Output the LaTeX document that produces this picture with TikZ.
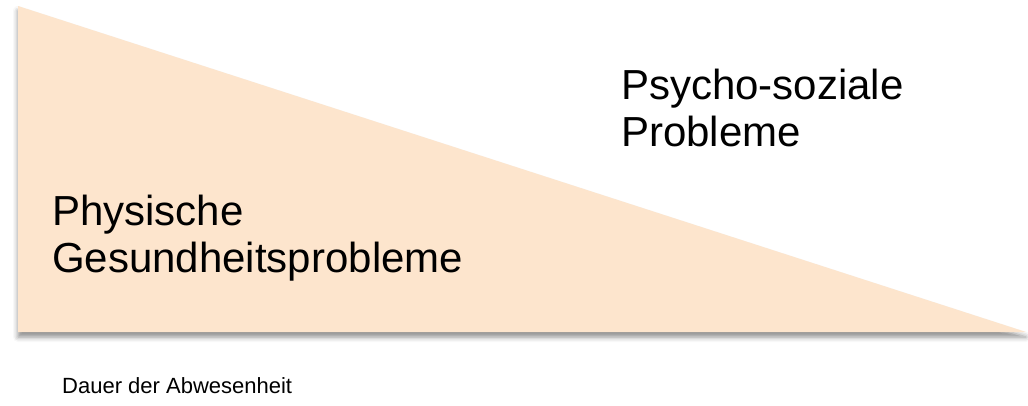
\documentclass[tikz,border=0pt]{standalone}
\usepackage{fontspec}
\setmainfont{Liberation Sans}
\usetikzlibrary{shadows.blur}
\definecolor{peach}{RGB}{253,229,205}
\tikzset{
  label big/.style={inner sep=0pt, anchor=base west, align=left,
    font=\fontsize{42}{47}\selectfont},
  label small/.style={inner sep=0pt, anchor=base west,
    font=\fontsize{22}{26}\selectfont},
  wedge/.style={fill=peach, draw=none,
    blur shadow={shadow xshift=0pt, shadow yshift=-5pt,
      shadow blur radius=5pt, shadow opacity=45}}
}
\begin{document}
\begin{tikzpicture}[x=1pt,y=-1pt]
  \useasboundingbox (0,0) rectangle (1028,405);
  % decreasing wedge: physical problems fade, psycho-social ones grow
  \coordinate (top) at (18,6);
  \coordinate (corner) at (18,332);
  \coordinate (tip) at (1026,332);
  \path[wedge] (top) -- (tip) -- (corner) -- cycle;
  % multi-line labels are placed by the baseline of their last line
  \node[label big] (psycho) at (621,146) {Psycho-soziale\\Probleme};
  \node[label big] (physisch) at (52,272) {Physische\\Gesundheitsprobleme};
  \node[label small] (dauer) at (62,393) {Dauer der Abwesenheit};
\end{tikzpicture}
\end{document}
